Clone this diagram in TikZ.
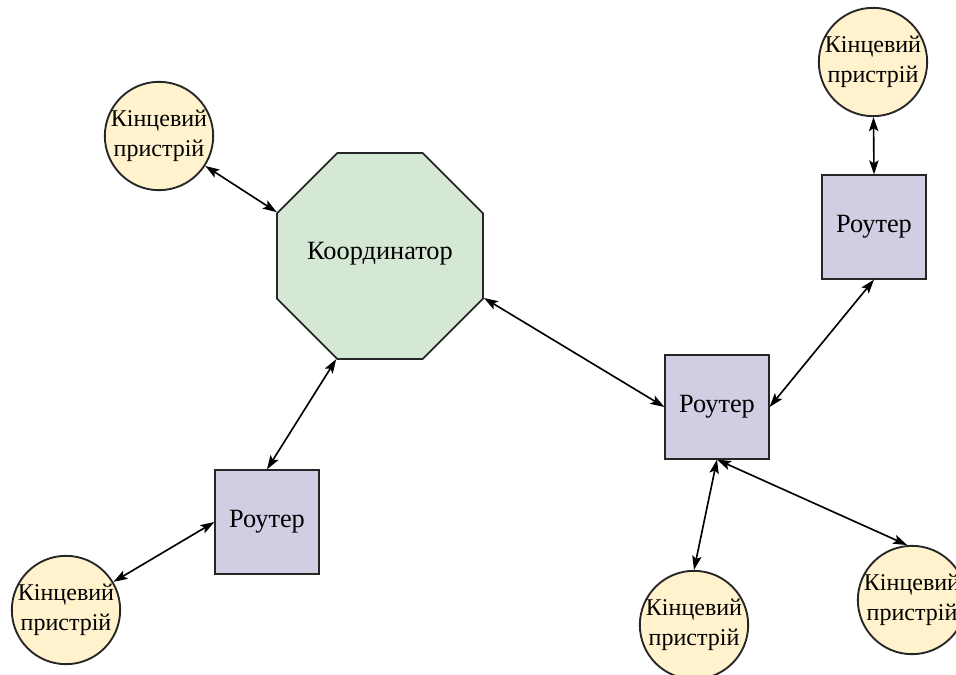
\documentclass[tikz,border=0pt]{standalone}
\usepackage{fontspec}
\setmainfont{Liberation Serif}
\usetikzlibrary{shapes.geometric,arrows.meta}
\definecolor{devfill}{HTML}{FFF2CC}
\definecolor{coordfill}{HTML}{D5E8D4}
\definecolor{routfill}{HTML}{D0CEE2}
\definecolor{edgecol}{HTML}{262626}
\tikzset{
  dev/.style={circle, draw=edgecol, fill=devfill, line width=1.6pt, minimum size=3.25cm, inner sep=0pt, align=center, font=\fontsize{20.5}{25.5}\selectfont},
  rout/.style={rectangle, draw=edgecol, fill=routfill, line width=1.6pt, minimum size=3.1cm, inner sep=0pt, font=\fontsize{22.5}{27}\selectfont},
  coord/.style={regular polygon, regular polygon sides=8, draw=edgecol, fill=coordfill, line width=1.6pt, minimum size=6.3cm, inner sep=0pt, font=\fontsize{22.5}{27}\selectfont},
  link/.style={{Stealth[length=12pt,width=8pt,inset=2.5pt]}-{Stealth[length=12pt,width=8pt,inset=2.5pt]}, line width=1.4pt, draw=black}
}
\newcommand{\devtext}{\makebox[0pt]{Кінцевий}\\\makebox[0pt]{пристрій}}
\begin{document}
\begin{tikzpicture}[x=0.03cm, y=-0.03cm]
\useasboundingbox (0,0) rectangle (956,675);
\node[coord] (k) at (380,256) {\raisebox{8pt}{Координатор}};
\node[dev] (d1) at (159,136) {\devtext};
\node[dev] (d2) at (873,62) {\devtext};
\node[dev] (d3) at (66,610) {\devtext};
\node[dev] (d4) at (694,625) {\devtext};
\node[dev] (d5) at (912,600) {\devtext};
\node[rout] (r1) at (874,227) {Роутер};
\node[rout] (r2) at (717,407) {Роутер};
\node[rout] (r3) at (267,522) {Роутер};
\draw[link] (d1) -- (k.157.5);
\draw[link] (k.-22.5) -- (r2.west);
\draw[link] (k.247.5) -- (r3.north);
\draw[link] (r3.west) -- (d3);
\draw[link] (d2) -- (r1.north);
\draw[link] (r1.south) -- (r2.east);
\draw[link] (r2.south) -- (d4.north);
\draw[link] (r2.south) -- (d5.95);
\end{tikzpicture}
\end{document}
